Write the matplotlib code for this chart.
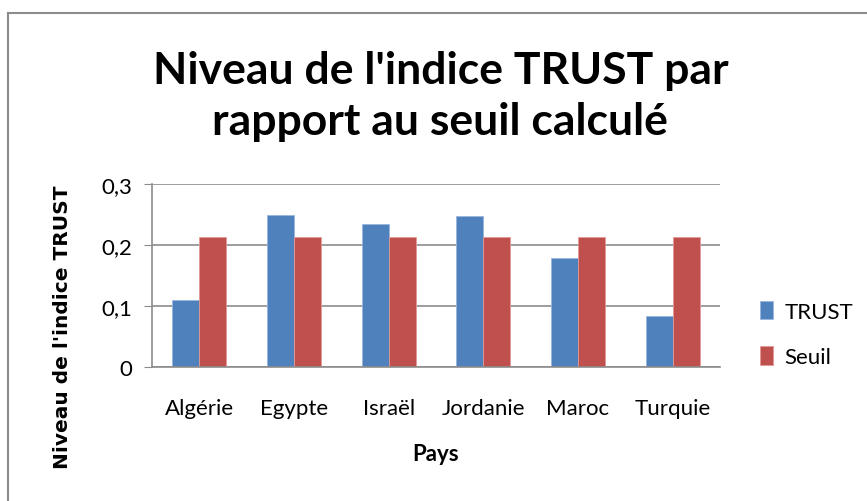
import numpy as np
import matplotlib.pyplot as plt
from matplotlib.lines import Line2D

# données
pays = ["Algérie", "Egypte", "Israël", "Jordanie", "Maroc", "Turquie"]
trust = [0.110, 0.249, 0.235, 0.247, 0.179, 0.083]
seuil = [0.213, 0.213, 0.213, 0.213, 0.213, 0.213]
yticks = [0, 0.1, 0.2, 0.3]
ytick_labels = ["0", "0,1", "0,2", "0,3"]

plt.rcParams['font.family'] = ['Lato', 'DejaVu Sans']

fig = plt.figure(figsize=(8.67, 5.02), dpi=100)
ax = fig.add_axes([0.1753, 0.2669, 0.6551, 0.3646])

x = np.arange(len(pays))
w = 0.285
ax.bar(x - w/2, trust, w, color="#4f81bd", label="TRUST", edgecolor="#9ab5dc", linewidth=0.6)
ax.bar(x + w/2, seuil, w, color="#c0504d", label="Seuil", edgecolor="#e29a98", linewidth=0.6)

ax.set_xlim(-0.5, len(pays) - 0.5)
ax.set_ylim(0, 0.3)
ax.set_yticks(yticks)
ax.set_yticklabels(ytick_labels, fontsize=16)
ax.set_xticks(x)
ax.set_xticklabels(pays, fontsize=16)
ax.yaxis.grid(True, color="#8c8c8c", linewidth=1.2)
ax.set_axisbelow(True)
for s in ["top", "right"]:
    ax.spines[s].set_visible(False)
ax.spines["left"].set_color("#8c8c8c")
ax.spines["bottom"].set_color("#8c8c8c")
ax.spines["left"].set_linewidth(1.2)
ax.spines["bottom"].set_linewidth(1.2)
ax.tick_params(axis="y", length=6, color="#8c8c8c", pad=8)
ax.tick_params(axis="x", length=0, pad=22)

ax.set_xlabel("Pays", fontsize=16, fontweight="bold", labelpad=18)
ax.set_ylabel("Niveau de l'indice TRUST", fontsize=14.5, fontweight="bold",
              family=["DejaVu Sans"])
ax.yaxis.set_label_coords(-0.14, 0.22)

fig.text(0.508, 0.808, "Niveau de l'indice TRUST par\nrapport au seuil calculé",
         ha="center", va="center", fontsize=32, fontweight="bold", linespacing=1.35)

ax.legend(loc="center left", bbox_to_anchor=(1.035, 0.18), frameon=False, fontsize=16,
          handlelength=0.6, handleheight=0.9, labelspacing=1.1, handletextpad=0.5)

# cadre
fig.add_artist(Line2D([8/867, 8/867], [0, 1 - 14/502], color="#8c8c8c", lw=1.5))
fig.add_artist(Line2D([8/867, 1], [1 - 14/502, 1 - 14/502], color="#8c8c8c", lw=1.5))

fig.savefig("out.png", dpi=100)
